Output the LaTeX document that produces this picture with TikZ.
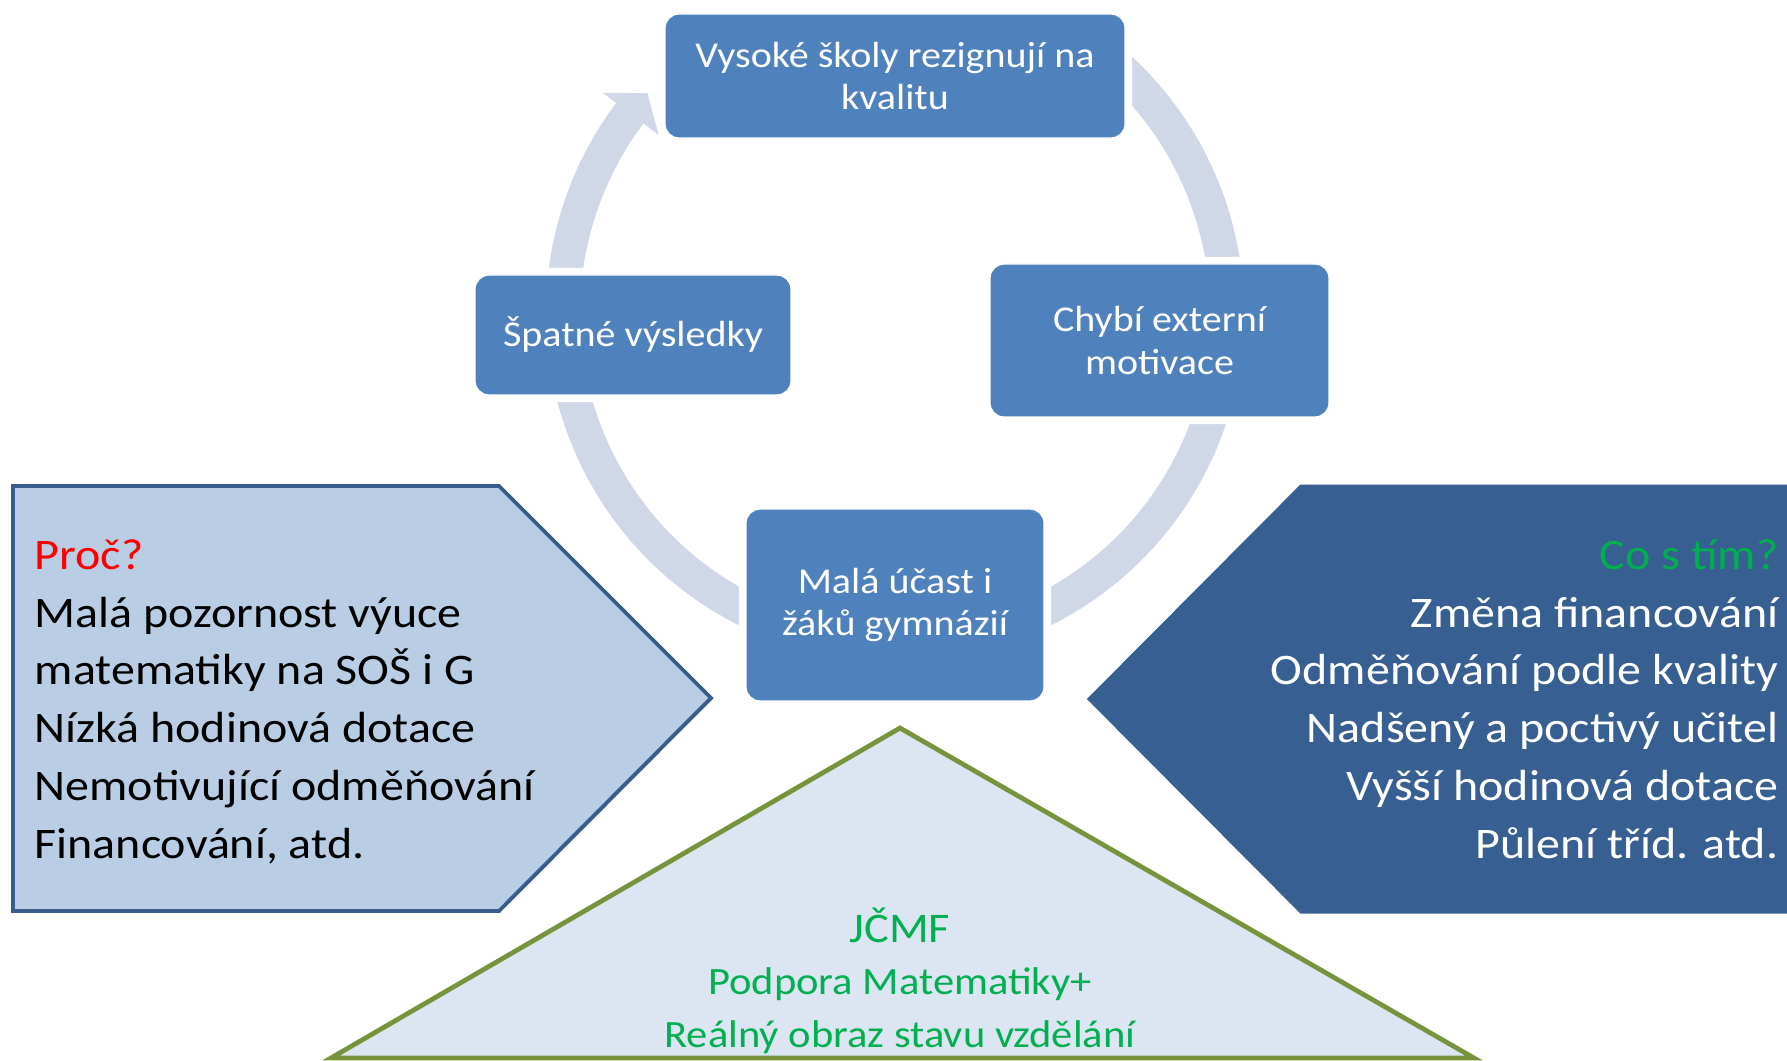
\documentclass[tikz,border=0pt]{standalone}
\usepackage{fontspec}
\setmainfont{Carlito}[FakeStretch=1.1]
\usepackage{xcolor}
\usepackage{tikz}
\definecolor{boxblue}{HTML}{4F81BD}
\definecolor{ringgray}{HTML}{D0D8E8}
\definecolor{whyfill}{HTML}{B9CDE5}
\definecolor{whyline}{HTML}{385D8A}
\definecolor{whatfill}{HTML}{375F91}
\definecolor{trifill}{HTML}{DCE6F2}
\definecolor{triline}{HTML}{77933C}
\definecolor{cosgreen}{HTML}{00B050}

\begin{document}
\begin{tikzpicture}[x=0.01cm,y=-0.01cm]
\tikzstyle{every node}+=[inner sep=0pt]
\tikzstyle{ring}=[draw=ringgray, line width=9.7pt]
\tikzstyle{cyclebox}=[rectangle, rounded corners=4pt, fill=boxblue, draw=white, line width=0.4pt, preaction={draw=white, line width=4pt}, text=white, align=center, font=\fontsize{10.35}{12.2}\selectfont]
\tikzstyle{listtext}=[font=\fontsize{12.4}{16.4}\selectfont]
\useasboundingbox (0,0) rectangle (1787,1060);
\coordinate (cyc) at (895,313);
\draw [ring] (cyc) ++(-50:332) arc [start angle=-50, end angle=0, radius=332];
\draw [ring] (cyc) ++(5:332) arc [start angle=5, end angle=70, radius=332];
\draw [ring] (cyc) ++(110:332) arc [start angle=110, end angle=170, radius=332];
\draw [ring] (cyc) ++(-175:332) arc [start angle=-175, end angle=-143, radius=332];
\fill [ringgray] (cyc) +(-143:366) -- +(-138.4:331) -- +(-143:296) -- cycle;
\node (vys) [cyclebox, minimum width=4.6cm, minimum height=1.24cm] at (895,76) {Vysoké školy rezignují na\\kvalitu};
\node (chyb) [cyclebox, minimum width=3.39cm, minimum height=1.53cm] at (1159.5,340.5) {Chybí externí\\motivace};
\node (mala) [cyclebox, minimum width=2.98cm, minimum height=1.92cm] at (895,605) {Malá účast i\\žáků gymnázií};
\node (spat) [cyclebox, minimum width=3.16cm, minimum height=1.2cm] at (633,335) {Špatné výsledky};
\draw [whyline, fill=whyfill, line width=1.1pt] (13,486) -- (499,486) -- (711,698) -- (499,911) -- (13,911) -- cycle;
\draw [whatfill, fill=whatfill, line width=0.85pt] (1301,486) -- (1800,486) -- (1800,912) -- (1301,912) -- (1089,699) -- cycle;
\draw [triline, fill=trifill, line width=1.35pt] (331,1058) -- (900,728) -- (1474,1058) -- cycle;
\node (why) [listtext, anchor=base west, align=left] at (34,858) {\textcolor{red}{Proč?}\\Malá pozornost výuce\\matematiky na SOŠ i G\\Nízká hodinová dotace\\Nemotivující odměňování\\Financování, atd.};
\node (what) [listtext, anchor=base east, align=right, text=white] at (1779,858) {\textcolor{cosgreen}{Co s tím?}\\Změna financování\\Odměňování podle kvality\\Nadšený a poctivý učitel\\Vyšší hodinová dotace\\Půlení tříd. atd.};
\node (jcmf) [anchor=base, align=center, text=cosgreen, font=\fontsize{11}{14.8}\selectfont] at (900,1047) {{\fontsize{12}{14.8}\selectfont JČMF}\\Podpora Matematiky+\\Reálný obraz stavu vzdělání};
\end{tikzpicture}
\end{document}
